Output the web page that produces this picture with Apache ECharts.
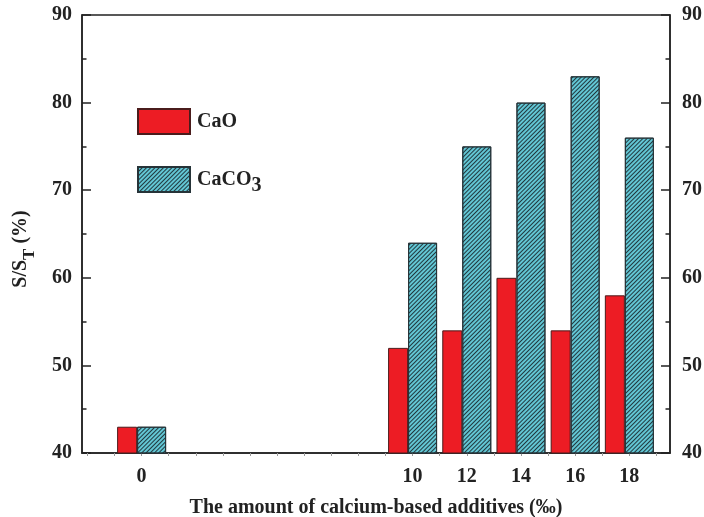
<!DOCTYPE html>
<html>
<head>
<meta charset="utf-8">
<script src="https://cdn.jsdelivr.net/npm/echarts@6/dist/echarts.min.js"></script>
<style>html,body{margin:0;padding:0;background:#fff}#c{width:704px;height:517px}</style>
</head>
<body>
<div id="c"></div>
<script>
var additives = [0, 10, 12, 14, 16, 18];
var caoValues = [43, 52, 54, 60, 54, 58];
var caco3Values = [43, 64, 75, 80, 83, 76];
var xTickLabels = [0, 10, 12, 14, 16, 18];
var xMinorTicks = [-2,-1,0,1,2,3,4,5,6,7,8,9,10,11,12,13,14,15,16,17,18,19];

var FONT = 'Liberation Serif';
var DARK = '#222';

function pairs(xs, ys) { return xs.map(function (x, i) { return [x, ys[i]]; }); }

var chart = echarts.init(document.getElementById('c'));
var yAxisCommon = {
  type: 'value', min: 40, max: 90, interval: 10,
  axisLine: { show: true, onZero: false, lineStyle: { color: DARK, width: 1.5 } },
  axisTick: { show: true, inside: true, length: 9, lineStyle: { color: DARK, width: 1.5 } },
  minorTick: { show: true, splitNumber: 2, length: 4.5, lineStyle: { color: DARK, width: 1.5 } },
  splitLine: { show: false },
  axisLabel: { fontSize: 20, fontWeight: 'bold', fontFamily: FONT, color: DARK }
};
chart.setOption({
  animation: false,
  backgroundColor: '#fff',
  grid: { left: 82, right: 34, top: 15, bottom: 64, show: true, borderColor: DARK, borderWidth: 1.5, containLabel: false, outerBoundsMode: 'none' },
  legend: {
    orient: 'vertical', left: 137, top: 108, padding: 0,
    itemWidth: 52, itemHeight: 25, itemGap: 31,
    icon: 'rect',
    data: ['CaO', 'CaCO3'],
    formatter: function (n) { return n === 'CaCO3' ? '{a|CaCO}{s|3}' : '{a|CaO}'; },
    textStyle: {
      rich: {
        a: { fontSize: 20, fontWeight: 'bold', fontFamily: FONT, color: DARK, padding: [0, 0, 0, 2], lineHeight: 30, verticalAlign: 'middle' },
        s: { fontSize: 20, fontWeight: 'bold', fontFamily: FONT, color: DARK, lineHeight: 32, verticalAlign: 'bottom' }
      }
    }
  },
  xAxis: {
    type: 'value', min: -2.2, max: 19.5,
    axisLine: { show: true, onZero: false, lineStyle: { color: DARK, width: 1.5 } },
    axisTick: { show: true, customValues: xMinorTicks, length: 3, lineStyle: { color: '#999' } },
    axisLabel: { customValues: xTickLabels, fontSize: 20, fontWeight: 'bold', fontFamily: FONT, color: DARK, margin: 14 },
    splitLine: { show: false },
    name: 'The amount of calcium-based additives (‰)',
    nameLocation: 'middle', nameGap: 45,
    nameTextStyle: { fontSize: 20, fontWeight: 'bold', fontFamily: FONT, color: DARK }
  },
  yAxis: [
    Object.assign({}, yAxisCommon, {
      position: 'left',
      axisLabel: Object.assign({}, yAxisCommon.axisLabel, { margin: 10 }),
      name: '{a|S/S}{s|T}{a| (%)}', nameLocation: 'middle', nameGap: 44,
      nameTextStyle: {
        padding: [0, 30, 0, 0],
        rich: {
          a: { fontSize: 20, fontWeight: 'bold', fontFamily: FONT, color: DARK, lineHeight: 27, verticalAlign: 'top' },
          s: { fontSize: 17, fontWeight: 'bold', fontFamily: FONT, color: DARK, lineHeight: 27, verticalAlign: 'bottom' }
        }
      }
    }),
    Object.assign({}, yAxisCommon, {
      position: 'right',
      axisLabel: Object.assign({}, yAxisCommon.axisLabel, { margin: 12 })
    })
  ],
  series: [
    {
      name: 'CaO', type: 'bar', barWidth: 20,
      data: pairs(additives, caoValues),
      itemStyle: { color: '#ED1C24', borderColor: '#4a1c1c', borderWidth: 1 }
    },
    {
      name: 'CaCO3', type: 'bar', barWidth: 29, barGap: '0%',
      data: pairs(additives, caco3Values),
      itemStyle: {
        color: '#62c6d4', borderColor: '#263338', borderWidth: 1,
        decal: { symbol: 'rect', symbolSize: 1, dashArrayX: [1, 0], dashArrayY: [1, 2], rotation: -Math.PI / 4, color: 'rgba(25,40,45,0.9)' }
      }
    }
  ]
});
</script>
</body>
</html>
